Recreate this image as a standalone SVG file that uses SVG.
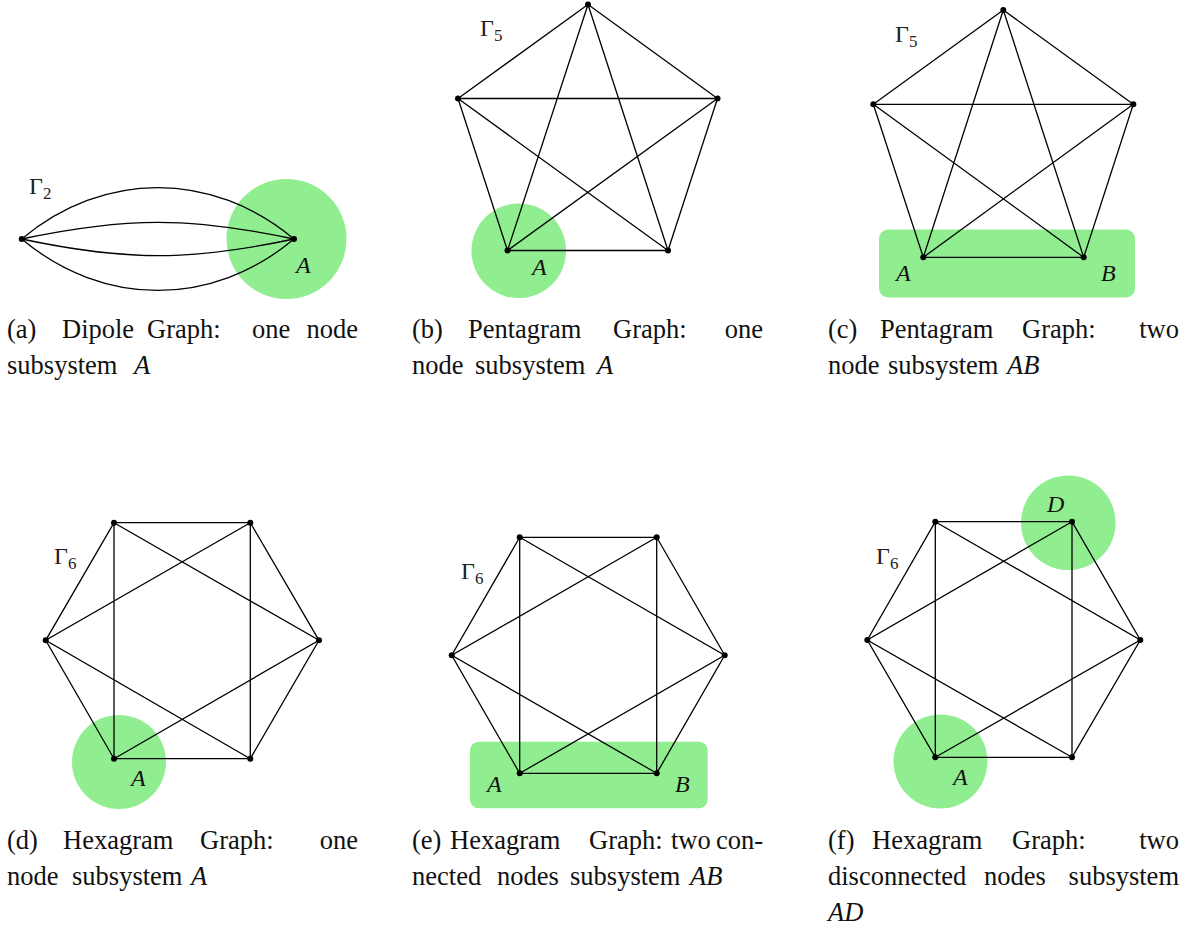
<svg xmlns="http://www.w3.org/2000/svg" width="1192" height="930" viewBox="0 0 1192 930">
<style>
.edge{stroke:#000;stroke-width:1.3;fill:none;stroke-linecap:round}
.dot{fill:#000}
.hl{fill:#90EE90}
text{font-family:"Liberation Serif","Times New Roman",serif}
.cap{font-size:26.5px;fill:#111}
.it{font-style:italic}
.lbl{font-style:italic;font-size:24px;fill:#111}
.gam{font-size:24px;fill:#222}
.sub{font-size:17px}
</style>
<rect width="1192" height="930" fill="#fff"/>

<!-- (a) Dipole -->
<g id="panel-a">
  <circle class="hl" cx="286.5" cy="239" r="60"/>
  <g id="a-connectors">
    <path class="edge" d="M21.7,239 C103.4,170.5 212.3,170.5 294,239"/>
    <path class="edge" d="M21.7,239 C126,216.8 189.7,216.8 294,239"/>
    <path class="edge" d="M21.7,239 C126,261.2 189.7,261.2 294,239"/>
    <path class="edge" d="M21.7,239 C103.4,307.5 212.3,307.5 294,239"/>
  </g>
  <g id="a-n1"><circle class="dot" cx="21.7" cy="239" r="3"/></g>
  <g id="a-nA"><circle class="dot" cx="294" cy="239" r="3"/><text class="lbl" x="296" y="273">A</text></g>
  <text class="gam" x="29" y="194">Γ<tspan class="sub" dy="5">2</tspan></text>
  <text class="cap" y="338"><tspan x="7">(a)</tspan><tspan x="62">Dipole</tspan><tspan x="147">Graph:</tspan><tspan x="252">one</tspan></text>
  <text class="cap" x="358" y="338" text-anchor="end">node</text>
  <text class="cap" y="374"><tspan x="7">subsystem</tspan><tspan class="it" x="134">A</tspan></text>
</g>

<!-- (b) Pentagram one node -->
<g id="panel-b">
  <circle class="hl" cx="518.8" cy="250.8" r="47.3"/>
  <g id="b-connectors">
    <path class="edge" d="M588,4.5 L458,98.5 M588,4.5 L717.5,98.5 M458,98.5 L717.5,98.5 M458,98.5 L507.5,250.5 M717.5,98.5 L668,250.5 M507.5,250.5 L668,250.5 M588,4.5 L507.5,250.5 M588,4.5 L668,250.5 M458,98.5 L668,250.5 M717.5,98.5 L507.5,250.5"/>
  </g>
  <g id="b-n1"><circle class="dot" cx="588" cy="4.5" r="3"/></g>
  <g id="b-n2"><circle class="dot" cx="458" cy="98.5" r="3"/></g>
  <g id="b-n3"><circle class="dot" cx="717.5" cy="98.5" r="3"/></g>
  <g id="b-nA"><circle class="dot" cx="507.5" cy="250.5" r="3"/><text class="lbl" x="532" y="275">A</text></g>
  <g id="b-n5"><circle class="dot" cx="668" cy="250.5" r="3"/></g>
  <text class="gam" x="480" y="36">Γ<tspan class="sub" dy="5">5</tspan></text>
  <text class="cap" y="338"><tspan x="412">(b)</tspan><tspan x="468">Pentagram</tspan><tspan x="613">Graph:</tspan></text>
  <text class="cap" x="763" y="338" text-anchor="end">one</text>
  <text class="cap" y="374"><tspan x="412">node</tspan><tspan x="475">subsystem</tspan><tspan class="it" x="597">A</tspan></text>
</g>

<!-- (c) Pentagram two nodes -->
<g id="panel-c">
  <rect class="hl" x="879" y="229.5" width="256" height="68" rx="9"/>
  <g id="c-connectors">
    <path class="edge" d="M1003.3,10 L873.3,104.3 M1003.3,10 L1133.3,104.3 M873.3,104.3 L1133.3,104.3 M873.3,104.3 L923.3,257.3 M1133.3,104.3 L1083.7,257.3 M923.3,257.3 L1083.7,257.3 M1003.3,10 L923.3,257.3 M1003.3,10 L1083.7,257.3 M873.3,104.3 L1083.7,257.3 M1133.3,104.3 L923.3,257.3"/>
  </g>
  <g id="c-n1"><circle class="dot" cx="1003.3" cy="10" r="3"/></g>
  <g id="c-n2"><circle class="dot" cx="873.3" cy="104.3" r="3"/></g>
  <g id="c-n3"><circle class="dot" cx="1133.3" cy="104.3" r="3"/></g>
  <g id="c-nA"><circle class="dot" cx="923.3" cy="257.3" r="3"/><text class="lbl" x="896" y="281">A</text></g>
  <g id="c-nB"><circle class="dot" cx="1083.7" cy="257.3" r="3"/><text class="lbl" x="1101" y="281">B</text></g>
  <text class="gam" x="895" y="42">Γ<tspan class="sub" dy="5">5</tspan></text>
  <text class="cap" y="338"><tspan x="828">(c)</tspan><tspan x="880">Pentagram</tspan><tspan x="1022">Graph:</tspan></text>
  <text class="cap" x="1179" y="338" text-anchor="end">two</text>
  <text class="cap" y="374"><tspan x="828">node</tspan><tspan x="888">subsystem</tspan><tspan class="it" x="1007">AB</tspan></text>
</g>

<!-- (d) Hexagram one node -->
<g id="panel-d">
  <circle class="hl" cx="119" cy="762" r="47"/>
  <g id="d-connectors">
    <path class="edge" d="M114,522.7 L250.3,522.7 L319,640.3 L250.3,758.7 L114,758.7 L45.7,640.3 Z M114,522.7 L114,758.7 M250.3,522.7 L250.3,758.7 M114,522.7 L319,640.3 L114,758.7 M250.3,522.7 L45.7,640.3 L250.3,758.7"/>
  </g>
  <g id="d-n1"><circle class="dot" cx="114" cy="522.7" r="3"/></g>
  <g id="d-n2"><circle class="dot" cx="250.3" cy="522.7" r="3"/></g>
  <g id="d-n3"><circle class="dot" cx="45.7" cy="640.3" r="3"/></g>
  <g id="d-n4"><circle class="dot" cx="319" cy="640.3" r="3"/></g>
  <g id="d-nA"><circle class="dot" cx="114" cy="758.7" r="3"/><text class="lbl" x="131" y="786">A</text></g>
  <g id="d-n6"><circle class="dot" cx="250.3" cy="758.7" r="3"/></g>
  <text class="gam" x="54" y="564">Γ<tspan class="sub" dy="5">6</tspan></text>
  <text class="cap" y="849"><tspan x="7">(d)</tspan><tspan x="63">Hexagram</tspan><tspan x="200">Graph:</tspan></text>
  <text class="cap" x="358" y="849" text-anchor="end">one</text>
  <text class="cap" y="885"><tspan x="7">node</tspan><tspan x="72">subsystem</tspan><tspan class="it" x="191">A</tspan></text>
</g>

<!-- (e) Hexagram two connected nodes -->
<g id="panel-e">
  <rect class="hl" x="470" y="741.7" width="237.7" height="66.6" rx="9"/>
  <g id="e-connectors">
    <path class="edge" d="M519.7,537.3 L656.7,537.3 L724.7,655.3 L656.7,773.3 L519.7,773.3 L451.7,655.3 Z M519.7,537.3 L519.7,773.3 M656.7,537.3 L656.7,773.3 M519.7,537.3 L724.7,655.3 L519.7,773.3 M656.7,537.3 L451.7,655.3 L656.7,773.3"/>
  </g>
  <g id="e-n1"><circle class="dot" cx="519.7" cy="537.3" r="3"/></g>
  <g id="e-n2"><circle class="dot" cx="656.7" cy="537.3" r="3"/></g>
  <g id="e-n3"><circle class="dot" cx="451.7" cy="655.3" r="3"/></g>
  <g id="e-n4"><circle class="dot" cx="724.7" cy="655.3" r="3"/></g>
  <g id="e-nA"><circle class="dot" cx="519.7" cy="773.3" r="3"/><text class="lbl" x="487" y="792">A</text></g>
  <g id="e-nB"><circle class="dot" cx="656.7" cy="773.3" r="3"/><text class="lbl" x="675" y="792">B</text></g>
  <text class="gam" x="461" y="579">Γ<tspan class="sub" dy="5">6</tspan></text>
  <text class="cap" y="849"><tspan x="412">(e)</tspan><tspan x="450">Hexagram</tspan><tspan x="589">Graph:</tspan><tspan x="671">two</tspan></text>
  <text class="cap" x="763" y="849" text-anchor="end">con-</text>
  <text class="cap" y="885"><tspan x="412">nected</tspan><tspan x="497">nodes</tspan><tspan x="570">subsystem</tspan><tspan class="it" x="690">AB</tspan></text>
</g>

<!-- (f) Hexagram two disconnected nodes -->
<g id="panel-f">
  <circle class="hl" cx="1068.3" cy="522.8" r="47.3"/>
  <circle class="hl" cx="940.5" cy="761.5" r="47"/>
  <g id="f-connectors">
    <path class="edge" d="M935.3,521.7 L1072,521.7 L1140.3,640 L1072,757.3 L935.3,757.3 L867.3,640 Z M935.3,521.7 L935.3,757.3 M1072,521.7 L1072,757.3 M935.3,521.7 L1140.3,640 L935.3,757.3 M1072,521.7 L867.3,640 L1072,757.3"/>
  </g>
  <g id="f-n1"><circle class="dot" cx="935.3" cy="521.7" r="3"/></g>
  <g id="f-nD"><circle class="dot" cx="1072" cy="521.7" r="3"/><text class="lbl" x="1047" y="512">D</text></g>
  <g id="f-n3"><circle class="dot" cx="867.3" cy="640" r="3"/></g>
  <g id="f-n4"><circle class="dot" cx="1140.3" cy="640" r="3"/></g>
  <g id="f-nA"><circle class="dot" cx="935.3" cy="757.3" r="3"/><text class="lbl" x="953" y="785">A</text></g>
  <g id="f-n6"><circle class="dot" cx="1072" cy="757.3" r="3"/></g>
  <text class="gam" x="876" y="564">Γ<tspan class="sub" dy="5">6</tspan></text>
  <text class="cap" y="849"><tspan x="828">(f)</tspan><tspan x="872">Hexagram</tspan><tspan x="1012">Graph:</tspan></text>
  <text class="cap" x="1179" y="849" text-anchor="end">two</text>
  <text class="cap" y="885"><tspan x="828">disconnected</tspan><tspan x="984">nodes</tspan></text>
  <text class="cap" x="1179" y="885" text-anchor="end">subsystem</text>
  <text class="cap it" x="828" y="921">AD</text>
</g>
</svg>
